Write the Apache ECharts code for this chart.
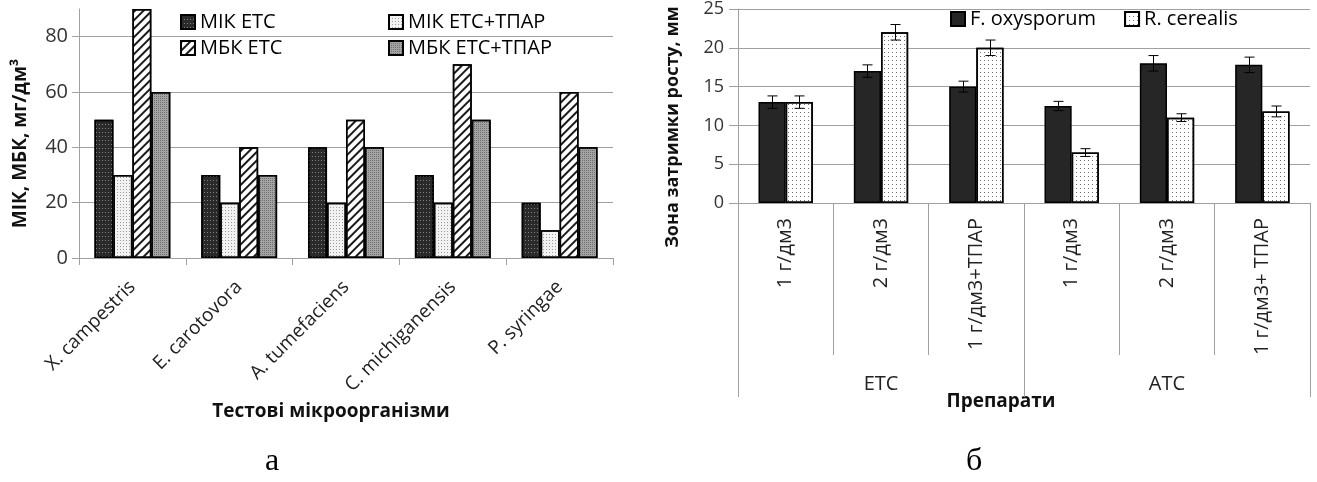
<!DOCTYPE html>
<html>
<head>
<meta charset="utf-8">
<script src="https://cdn.jsdelivr.net/npm/echarts@6/dist/echarts.min.js"></script>
<style>html,body{margin:0;padding:0;background:#fff}#c{width:1317px;height:482px}</style>
</head>
<body>
<div id="c"></div>
<script>
// ---- Chart (а) data ----
const microbes = ['X. campestris', 'E. carotovora', 'A. tumefaciens', 'C. michiganensis', 'P. syringae'];
const seriesNamesA = ['МІК ЕТС', 'МІК ЕТС+ТПАР', 'МБК ЕТС', 'МБК ЕТС+ТПАР'];
const mikEtc = [50, 30, 40, 30, 20];
const mikEtcTpar = [30, 20, 20, 20, 10];
const mbkEtc = [90, 40, 50, 70, 60];
const mbkEtcTpar = [60, 30, 40, 50, 40];
const yTitleA = 'МІК, МБК, мг/дм³';
const xTitleA = 'Тестові мікроорганізми';

// ---- Chart (б) data ----
const doses = ['1 г/дм3', '2 г/дм3', '1 г/дм3+ТПАР', '1 г/дм3', '2 г/дм3', '1 г/дм3+ ТПАР'];
const preparations = ['ЕТС', 'АТС'];
const fungiNames = ['F. oxysporum', 'R. cerealis'];
const fOxysporum = [13, 17, 15, 12.5, 18, 17.8];
const rCerealis = [13, 22, 20, 6.5, 11, 11.8];
const fOxysporumErr = [0.8, 0.8, 0.7, 0.6, 1.0, 1.0];
const rCerealisErr = [0.8, 1.0, 1.0, 0.5, 0.5, 0.7];
const yTitleB = 'Зона затримки росту, мм';
const xTitleB = 'Препарати';

const FONT = "'Open Sans', 'DejaVu Sans', sans-serif";
const GRID_COLOR = '#a0a0a0';
const GAP_B = 0.43;

const patterns = [
  { color: '#2a2a2a', decal: { symbol: 'rect', symbolSize: 1, color: '#808080', dashArrayX: [1, 2], dashArrayY: [1, 3], rotation: 0 } },
  { color: '#f2f2f2', decal: { symbol: 'rect', symbolSize: 1, color: '#9c9c9c', dashArrayX: [1, 2], dashArrayY: [1, 2], rotation: 0 } },
  { color: '#ffffff', decal: { symbol: 'rect', symbolSize: 1, color: '#1a1a1a', dashArrayX: [1, 0], dashArrayY: [2, 4], rotation: -Math.PI / 4 } },
  { color: '#a4a4a4', decal: { symbol: 'rect', symbolSize: 1, color: '#707070', dashArrayX: [1, 1], dashArrayY: [1, 1], rotation: 0 } }
];
const patternsB = [
  { color: '#262626' },
  { color: '#ffffff', decal: { symbol: 'rect', symbolSize: 1, color: '#707070', dashArrayX: [1, 3], dashArrayY: [1, 3], rotation: 0 } }
];

const valsA = [mikEtc, mikEtcTpar, mbkEtc, mbkEtcTpar];
const seriesA = seriesNamesA.map((n, i) => ({
  name: n, type: 'bar', xAxisIndex: 0, yAxisIndex: 0,
  data: valsA[i], barGap: '0%', barCategoryGap: '29%',
  itemStyle: Object.assign({ borderColor: '#000', borderWidth: 1.5 }, patterns[i])
}));
const valsB = [fOxysporum, rCerealis];
const errsB = [fOxysporumErr, rCerealisErr];
const seriesB = fungiNames.map((n, i) => ({
  name: n, type: 'bar', xAxisIndex: 1, yAxisIndex: 1,
  data: valsB[i], barGap: '0%', barCategoryGap: (GAP_B * 100) + '%',
  itemStyle: Object.assign({ borderColor: '#000', borderWidth: 1.5 }, patternsB[i])
}));
const errData = [];
valsB.forEach((vals, si) => vals.forEach((v, ci) => errData.push([ci, v, errsB[si][ci], si])));
const errSeries = {
  name: 'errors', type: 'custom', xAxisIndex: 1, yAxisIndex: 1, z: 10,
  data: errData,
  renderItem: function (params, api) {
    const cat = api.value(0), v = api.value(1), e = api.value(2), si = api.value(3);
    const band = api.size([1, 0])[0];
    const groupW = band * (1 - GAP_B);
    const bw = groupW / 2;
    const off = -groupW / 2 + bw * (si + 0.5);
    const t = api.coord([cat, v + e]);
    const b = api.coord([cat, v - e]);
    const x = Math.round(t[0] + off) + 0.5;
    const hw = 5;
    const st = { stroke: '#000', lineWidth: 1 };
    return {
      type: 'group', children: [
        { type: 'line', shape: { x1: x, y1: t[1], x2: x, y2: b[1] }, style: st },
        { type: 'line', shape: { x1: x - hw, y1: t[1], x2: x + hw, y2: t[1] }, style: st },
        { type: 'line', shape: { x1: x - hw, y1: b[1], x2: x + hw, y2: b[1] }, style: st }
      ]
    };
  }
};

const legendTextA = { fontFamily: FONT, fontSize: 20, color: '#000' };
const legendTextB = { fontFamily: FONT, fontSize: 20, color: '#000' };
function leg(name, left, top) {
  return { data: [name], left: left, top: top, itemWidth: 14, itemHeight: 14, itemGap: 6, icon: 'rect', textStyle: legendTextA, padding: 0 };
}

const option = {
  animation: false,
  backgroundColor: '#fff',
  textStyle: { fontFamily: FONT },
  legend: [
    leg(seriesNamesA[0], 180, 12),
    leg(seriesNamesA[2], 180, 38),
    leg(seriesNamesA[1], 388, 12),
    leg(seriesNamesA[3], 388, 38),
    { data: fungiNames, left: 950, top: 9, itemWidth: 14, itemHeight: 14, itemGap: 28, icon: 'rect', textStyle: legendTextB, padding: 0 }
  ],
  grid: [
    { left: 79, right: 704, top: 9, bottom: 224, containLabel: false },
    { left: 738, right: 7, top: 8, bottom: 279, containLabel: false }
  ],
  xAxis: [
    {
      type: 'category', gridIndex: 0, data: microbes,
      axisLine: { lineStyle: { color: GRID_COLOR, width: 1 } },
      axisTick: { show: true, length: 7, alignWithLabel: false, lineStyle: { color: GRID_COLOR } },
      axisLabel: { rotate: 45, interval: 0, margin: 26, fontSize: 19, color: '#222', fontFamily: FONT },
      name: xTitleA, nameLocation: 'middle', nameGap: 137,
      nameTextStyle: { fontSize: 19, fontWeight: 'bold', color: '#111', fontFamily: FONT, padding: [0, 30, 0, 0] }
    },
    {
      type: 'category', gridIndex: 1, data: doses,
      axisLine: { lineStyle: { color: GRID_COLOR, width: 1 } },
      axisTick: { show: true, length: 152, alignWithLabel: false, interval: 0, lineStyle: { color: GRID_COLOR } },
      axisLabel: { rotate: 90, interval: 0, margin: 15, fontSize: 20, color: '#222', fontFamily: FONT },
      name: xTitleB, nameLocation: 'middle', nameGap: 189,
      nameTextStyle: { fontSize: 19, fontWeight: 'bold', color: '#111', fontFamily: FONT, padding: [0, 46, 0, 0] }
    },
    {
      type: 'category', gridIndex: 1, data: preparations, position: 'bottom',
      axisLine: { show: false },
      axisTick: { show: true, length: 194, alignWithLabel: false, interval: 0, lineStyle: { color: GRID_COLOR } },
      axisLabel: { interval: 0, margin: 171, fontSize: 20, color: '#222', fontFamily: FONT },
      splitLine: { show: false }
    }
  ],
  yAxis: [
    {
      type: 'value', gridIndex: 0, min: 0, max: 90, interval: 20,
      axisLine: { show: true, lineStyle: { color: GRID_COLOR } },
      axisTick: { show: true, length: 7, lineStyle: { color: GRID_COLOR } },
      axisLabel: { fontSize: 20, color: '#333', margin: 11, fontFamily: FONT, showMaxLabel: false,
        formatter: v => (v % 20 === 0 ? String(v) : '') },
      splitLine: { show: true, showMaxLine: false, lineStyle: { color: GRID_COLOR } },
      name: yTitleA, nameLocation: 'middle', nameGap: 49, nameRotate: 90,
      nameTextStyle: { fontSize: 19, fontWeight: 'bold', color: '#111', fontFamily: FONT, padding: [0, 20, 0, 0] }
    },
    {
      type: 'value', gridIndex: 1, min: 0, max: 25, interval: 5,
      axisLine: { show: true, lineStyle: { color: GRID_COLOR } },
      axisTick: { show: true, length: 9, lineStyle: { color: GRID_COLOR } },
      axisLabel: { fontSize: 18, color: '#333', margin: 14, fontFamily: FONT },
      splitLine: { show: true, lineStyle: { color: GRID_COLOR } },
      name: yTitleB, nameLocation: 'middle', nameGap: 56, nameRotate: 90,
      nameTextStyle: { fontSize: 18, fontWeight: 'bold', color: '#111', fontFamily: FONT, padding: [0, 42, 0, 0] }
    }
  ],
  graphic: [
    { type: 'text', left: 265, top: 446, style: { text: 'а', font: "32px 'Liberation Serif', 'DejaVu Serif', serif", fill: '#000' } },
    { type: 'text', left: 966, top: 446, style: { text: 'б', font: "32px 'Liberation Serif', 'DejaVu Serif', serif", fill: '#000' } }
  ],
  series: seriesA.concat(seriesB).concat([errSeries])
};

const chart = echarts.init(document.getElementById('c'), null, { renderer: 'canvas' });
chart.setOption(option);
</script>
</body>
</html>
